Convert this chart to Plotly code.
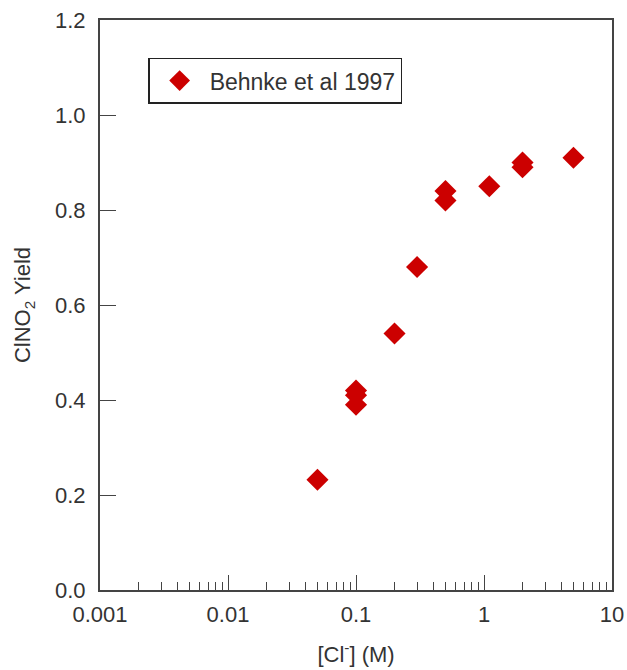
import plotly.graph_objects as go

# Data
cl_conc = [0.05, 0.1, 0.1, 0.1, 0.2, 0.3, 0.5, 0.5, 1.1, 2.0, 2.0, 5.0]
clno2_yield = [0.232, 0.42, 0.41, 0.39, 0.54, 0.68, 0.84, 0.82, 0.85, 0.90, 0.89, 0.91]
series_name = "Behnke et al 1997"
x_tickvals = [0.001, 0.01, 0.1, 1, 10]
x_ticktext = ["0.001", "0.01", "0.1", "1", "10"]
y_tickvals = [0.0, 0.2, 0.4, 0.6, 0.8, 1.0, 1.2]
y_ticktext = ["0.0", "0.2", "0.4", "0.6", "0.8", "1.0", "1.2"]
decades = [0.001, 0.01, 0.1, 1]
minor_digits = [2, 3, 4, 5, 6, 7, 8, 9]
x_minor_vals = [d * k for d in decades for k in minor_digits]

FONT = "Liberation Sans, Arial, sans-serif"
AXIS_COLOR = "#444444"
TEXT_COLOR = "#333333"

fig = go.Figure()
fig.add_trace(go.Scatter(
    x=cl_conc, y=clno2_yield, mode="markers", name=series_name,
    marker=dict(symbol="diamond", size=17, color="#cc0000",
                line=dict(width=0)),
))

fig.update_layout(
    width=627, height=670,
    margin=dict(l=100, r=15, t=20, b=80, autoexpand=False),
    paper_bgcolor="white", plot_bgcolor="white",
    font=dict(family=FONT, size=22, color=TEXT_COLOR),
    showlegend=True,
    legend=dict(
        x=0.094, y=0.934, xanchor="left", yanchor="top",
        bordercolor="#222222", borderwidth=1.5, bgcolor="white",
        font=dict(size=23, color=TEXT_COLOR),
        itemsizing="trace", itemwidth=50,
    ),
    xaxis=dict(
        type="log", range=[-3, 1], automargin=False,
        tickvals=x_tickvals, ticktext=x_ticktext,
        ticks="inside", ticklen=15, tickwidth=1.2, tickcolor=AXIS_COLOR,
        minor=dict(tickvals=x_minor_vals, ticks="inside", ticklen=8,
                   tickwidth=1.2, tickcolor=AXIS_COLOR, showgrid=False),
        showgrid=False, zeroline=False,
        showline=True, linecolor=AXIS_COLOR, linewidth=2, mirror=True,
        ticklabelstandoff=4, ticklabeloverflow="allow",
        title=dict(text="[Cl<sup>-</sup>] (M)", font=dict(size=22), standoff=20),
    ),
    yaxis=dict(
        range=[0, 1.2], automargin=False,
        tickvals=y_tickvals, ticktext=y_ticktext,
        ticks="inside", ticklen=16, tickwidth=1.2, tickcolor=AXIS_COLOR,
        showgrid=False, zeroline=False,
        showline=True, linecolor=AXIS_COLOR, linewidth=2, mirror=True,
        ticklabelstandoff=8, ticklabeloverflow="allow",
        title=dict(text="ClNO<sub>2</sub> Yield", font=dict(size=22), standoff=18),
    ),
)

fig.write_html(
    "out.html",
    config={"displayModeBar": False},
    post_script="document.body.style.margin='0px';document.body.style.overflow='hidden';",
)
